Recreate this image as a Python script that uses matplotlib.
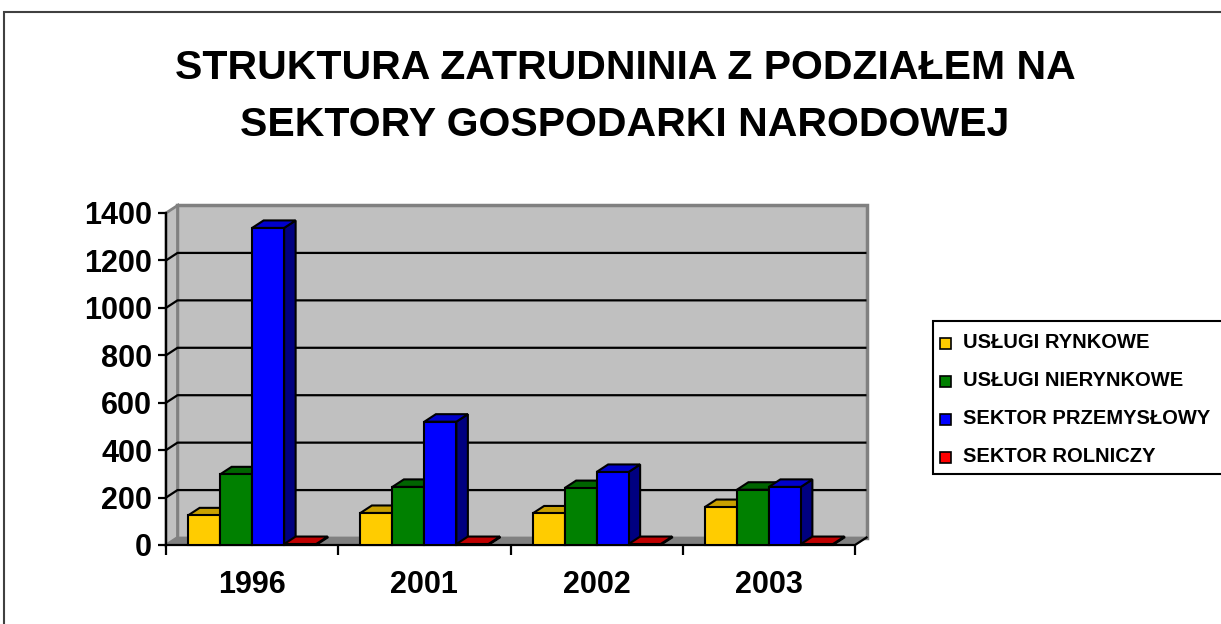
import matplotlib.pyplot as plt
from matplotlib.patches import Polygon, Rectangle

plt.rcParams['font.family'] = ['Liberation Sans', 'DejaVu Sans']

years = ['1996', '2001', '2002', '2003']
series = ['USŁUGI RYNKOWE', 'USŁUGI NIERYNKOWE', 'SEKTOR PRZEMYSŁOWY', 'SEKTOR ROLNICZY']
uslugi_rynkowe = [125, 135, 133, 160]
uslugi_nierynkowe = [298, 245, 240, 233]
sektor_przemyslowy = [1337, 520, 308, 245]
sektor_rolniczy = [4, 4, 4, 4]
values = [uslugi_rynkowe, uslugi_nierynkowe, sektor_przemyslowy, sektor_rolniczy]

front = ['#FFCC00', '#008000', '#0000FF', '#FF0000']
top = ['#C9A000', '#006400', '#0000CC', '#C00000']
side = ['#806600', '#004000', '#000080', '#800000']

W, H = 1221, 624
fig = plt.figure(figsize=(W / 100, H / 100), dpi=100)
fig.patch.set_facecolor('white')

# axes box = front plane of the 3d chart (pixels)
x0, x1, yb, yt = 166, 855, 545, 213
ax = fig.add_axes([x0 / W, 1 - yb / H, (x1 - x0) / W, (yb - yt) / H])
ax.set_xlim(-0.5, 3.5)
ax.set_ylim(0, 1400)
ax.patch.set_visible(False)
for s in ax.spines.values():
    s.set_visible(False)

# depth offset in data units
dx = 11.5 / ((x1 - x0) / 4)
dy = 7.5 / ((yb - yt) / 1400)

def poly(pts, fc, ec, lw=1.5, z=1):
    ax.add_patch(Polygon(pts, closed=True, facecolor=fc, edgecolor=ec,
                         linewidth=lw, clip_on=False, zorder=z, joinstyle='miter'))

# walls and floor
poly([(-0.5 + dx, dy), (3.5 + dx, dy), (3.5 + dx, 1400 + dy), (-0.5 + dx, 1400 + dy)],
     '#C0C0C0', '#808080', 2.5)
poly([(-0.5, 0), (-0.5 + dx, dy), (-0.5 + dx, 1400 + dy), (-0.5, 1400)],
     '#C0C0C0', '#808080', 2)
poly([(-0.5, 0), (3.5, 0), (3.5 + dx, dy), (-0.5 + dx, dy)], '#808080', '#808080', 1)

# gridlines on side and back wall
for v in range(200, 1201, 200):
    ax.plot([-0.5, -0.5 + dx, 3.5 + dx], [v, v + dy, v + dy], color='black', lw=1.6,
            clip_on=False, zorder=2, solid_capstyle='butt')

# axes lines
ax.plot([-0.5, -0.5], [0, 1400], color='black', lw=1.6, clip_on=False, zorder=3)
ax.plot([-0.5, 3.5, 3.5 + dx], [0, 0, dy], color='black', lw=1.6, clip_on=False, zorder=3)

# bars
bw = 32 / ((x1 - x0) / 4)
for i in range(len(years)):
    for j in range(len(series)):
        v = values[j][i]
        l = i - 2 * bw + j * bw
        r = l + bw
        z = 4
        poly([(r, 0), (r + dx, dy), (r + dx, v + dy), (r, v)], side[j], 'black', 1.5, z)
        poly([(l, v), (r, v), (r + dx, v + dy), (l + dx, v + dy)], top[j], 'black', 1.5, z)
        ax.add_patch(Rectangle((l, 0), bw, v, facecolor=front[j], edgecolor='black',
                               linewidth=1.5, clip_on=False, zorder=z))

ax.set_yticks(range(0, 1401, 200))
ax.set_xticks(range(4))
ax.set_xticklabels(years)
ax.set_xticks([-0.5, 0.5, 1.5, 2.5, 3.5], minor=True)
ax.tick_params(axis='y', length=6, width=1.6, pad=4, labelsize=22)
ax.tick_params(axis='x', which='major', length=0, pad=18, labelsize=22)
ax.tick_params(axis='x', which='minor', length=7, width=1.6)
for lab in ax.get_xticklabels() + ax.get_yticklabels():
    lab.set_fontweight('bold')

# title
fig.text(625 / W, 1 - 68 / H, 'STRUKTURA ZATRUDNINIA Z PODZIAŁEM NA',
         ha='center', va='center', fontsize=29.5, fontweight='bold')
fig.text(625 / W, 1 - 125 / H, 'SEKTORY GOSPODARKI NARODOWEJ',
         ha='center', va='center', fontsize=29.5, fontweight='bold')

# outer frame
fig.patches.append(Rectangle((4 / W, -0.1), 1.1, 1 - 12 / H + 0.1, transform=fig.transFigure,
                             fill=False, edgecolor='#404040', linewidth=1.5))

# legend
fig.patches.append(Rectangle((933 / W, 1 - 474 / H), 0.3, 153 / H, transform=fig.transFigure,
                             facecolor='white', edgecolor='black', linewidth=1.5))
for j, name in enumerate(series):
    yc = 343 + 38 * j
    fig.patches.append(Rectangle((940 / W, 1 - (yc + 5.5) / H), 11 / W, 11 / H,
                                 transform=fig.transFigure, facecolor=front[j],
                                 edgecolor='black', linewidth=1.2))
    fig.text(963 / W, 1 - yc / H, name, ha='left', va='center', fontsize=14.5,
             fontweight='bold')

fig.savefig('out.png', dpi=100)
